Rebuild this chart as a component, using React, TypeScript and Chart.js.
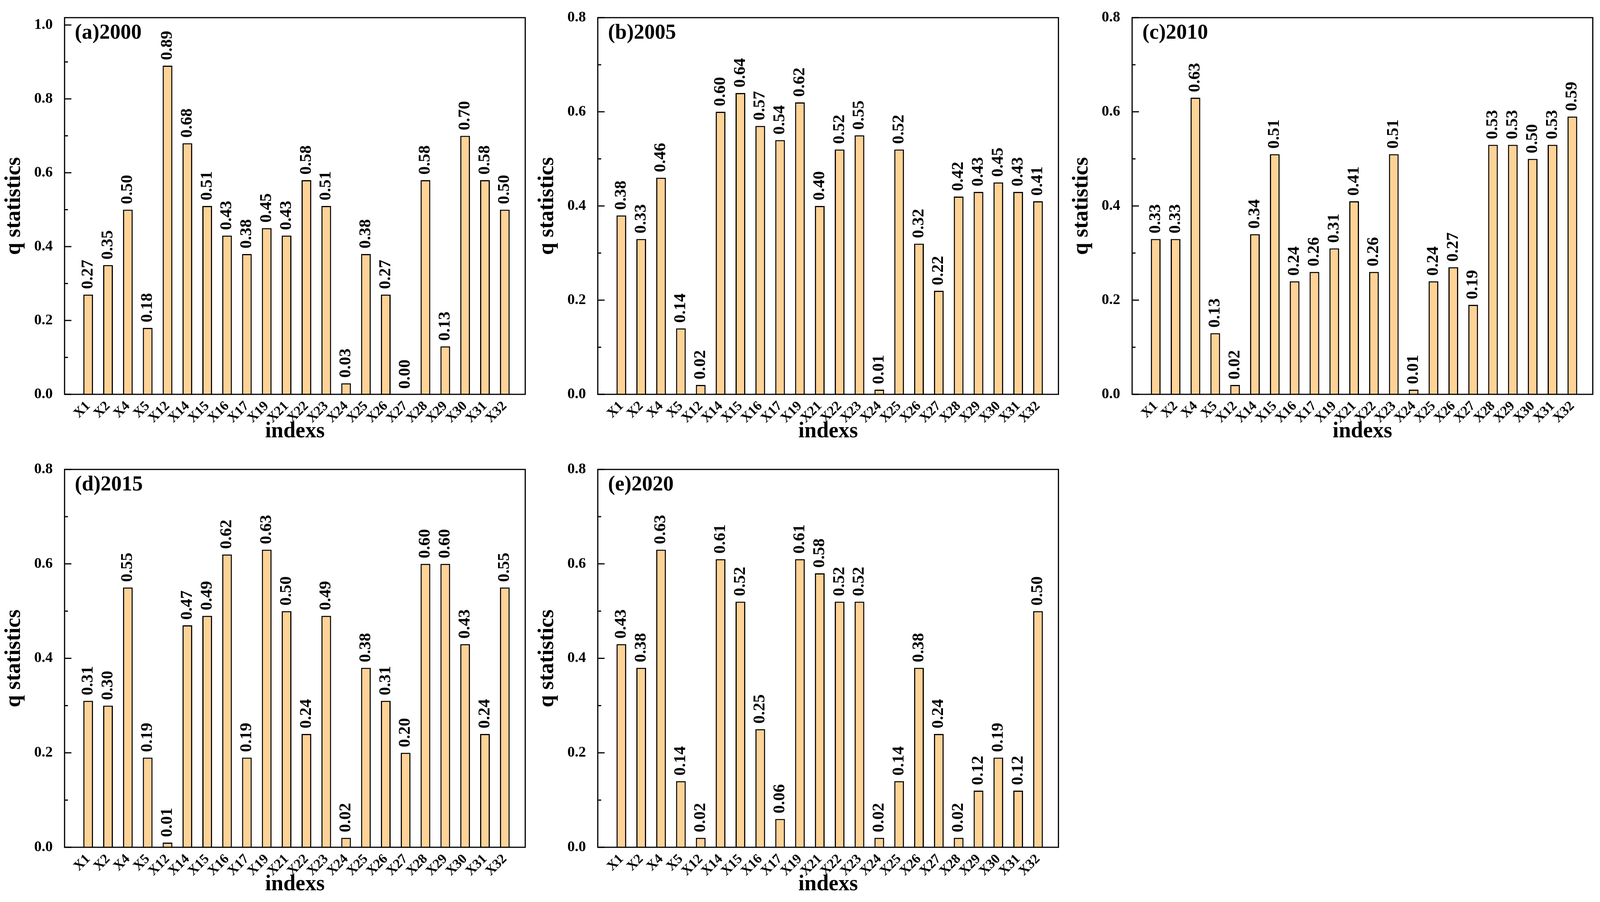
import React, { useEffect, useMemo, useRef } from "react";
import { Chart, registerables } from "chart.js";

Chart.register(...registerables);

// ---------------- data ----------------
const categories = ["X1", "X2", "X4", "X5", "X12", "X14", "X15", "X16", "X17", "X19", "X21", "X22", "X23", "X24", "X25", "X26", "X27", "X28", "X29", "X30", "X31", "X32"];

const q2000 = [0.27, 0.35, 0.5, 0.18, 0.89, 0.68, 0.51, 0.43, 0.38, 0.45, 0.43, 0.58, 0.51, 0.03, 0.38, 0.27, 0.0, 0.58, 0.13, 0.7, 0.58, 0.5];
const q2005 = [0.38, 0.33, 0.46, 0.14, 0.02, 0.6, 0.64, 0.57, 0.54, 0.62, 0.4, 0.52, 0.55, 0.01, 0.52, 0.32, 0.22, 0.42, 0.43, 0.45, 0.43, 0.41];
const q2010 = [0.33, 0.33, 0.63, 0.13, 0.02, 0.34, 0.51, 0.24, 0.26, 0.31, 0.41, 0.26, 0.51, 0.01, 0.24, 0.27, 0.19, 0.53, 0.53, 0.5, 0.53, 0.59];
const q2015 = [0.31, 0.3, 0.55, 0.19, 0.01, 0.47, 0.49, 0.62, 0.19, 0.63, 0.5, 0.24, 0.49, 0.02, 0.38, 0.31, 0.2, 0.6, 0.6, 0.43, 0.24, 0.55];
const q2020 = [0.43, 0.38, 0.63, 0.14, 0.02, 0.61, 0.52, 0.25, 0.06, 0.61, 0.58, 0.52, 0.52, 0.02, 0.14, 0.38, 0.24, 0.02, 0.12, 0.19, 0.12, 0.5];

const yTicksTo10 = [0, 0.2, 0.4, 0.6, 0.8, 1.0];
const yTicksTo08 = [0, 0.2, 0.4, 0.6, 0.8];

const panelTitles = ["(a)2000", "(b)2005", "(c)2010", "(d)2015", "(e)2020"];
const xTitle = "indexs";
const yTitle = "q statistics";

// ---------------- styling / layout ----------------
const FONT = "'Liberation Serif', 'Times New Roman', Times, serif";
const BAR_FILL = "rgb(255, 210, 150)";
const REF_W = 4213;
const REF_H = 2308;

// plot boxes in reference pixels
const plotBoxes = [
  { L: 170, R: 1383, T: 34, B: 1009 },
  { L: 1574, R: 2787, T: 34, B: 1009 },
  { L: 2981, R: 4194, T: 34, B: 1009 },
  { L: 170, R: 1383, T: 1190, B: 2168 },
  { L: 1574, R: 2787, T: 1190, B: 2168 },
];

const panelValues = [q2000, q2005, q2010, q2015, q2020];
const panelYMax = [1.02, 0.8, 0.8, 0.8, 0.8];
const panelYTicks = [yTicksTo10, yTicksTo08, yTicksTo08, yTicksTo08, yTicksTo08];

type Spec = {
  title: string;
  values: number[];
  yMax: number;
  yTicks: number[];
  left: number;
  top: number;
  width: number;
  height: number;
  padTop: number;
  padRight: number;
  yAxisW: number;
  xAxisH: number;
  yTitlePad: number;
  xTitlePad: number;
  sx: number;
  sy: number;
};

function buildSpecs(vw: number, vh: number): Spec[] {
  const sx = vw / REF_W;
  const sy = vh / REF_H;
  return plotBoxes.map((b, i) => {
    const left = Math.floor((b.L - 170) * sx);
    const top = Math.floor((b.T - 34) * sy);
    const right = Math.min(vw, Math.ceil((b.R + 19) * sx));
    const bottom = Math.min(vh, Math.ceil((b.B + 141) * sy));
    const width = right - left;
    const height = bottom - top;
    const yAxisW = b.L * sx - left;
    const padTop = b.T * sy - top;
    const padRight = width - (b.R * sx - left);
    const xAxisH = height - (b.B * sy - top);
    const titleLH = 56 * 1.2;
    const yTitleCenter = (b.L - 132) * sx - left;
    const yTitlePad = Math.max(0, yTitleCenter - titleLH / 2);
    const xTitlePad = Math.max(0, xAxisH - 96 * sy - titleLH / 2);
    return {
      title: panelTitles[i],
      values: panelValues[i],
      yMax: panelYMax[i],
      yTicks: panelYTicks[i],
      left,
      top,
      width,
      height,
      padTop,
      padRight,
      yAxisW,
      xAxisH,
      yTitlePad,
      xTitlePad,
      sx,
      sy,
    };
  });
}

function Panel({ spec }: { spec: Spec }) {
  const ref = useRef<HTMLCanvasElement | null>(null);
  useEffect(() => {
    if (!ref.current) return;
    const { sx, sy } = spec;
    const minorTicks: number[] = [];
    for (let i = 0; i < spec.yTicks.length; i++) {
      const next = i + 1 < spec.yTicks.length ? spec.yTicks[i + 1] : spec.yTicks[i] + (spec.yTicks[1] - spec.yTicks[0]);
      const mid = (spec.yTicks[i] + next) / 2;
      if (mid <= spec.yMax + 1e-9) minorTicks.push(mid);
    }
    const decor = {
      id: "decor",
      afterDatasetsDraw(chart: any) {
        const { ctx, chartArea: a } = chart;
        const ys = chart.scales.y;
        ctx.save();
        ctx.strokeStyle = "#000";
        ctx.fillStyle = "#000";
        ctx.lineWidth = 3;
        ctx.beginPath();
        spec.yTicks.forEach((v) => {
          const py = ys.getPixelForValue(v);
          ctx.moveTo(a.left, py);
          ctx.lineTo(a.left + 18 * sx, py);
        });
        minorTicks.forEach((v) => {
          const py = ys.getPixelForValue(v);
          ctx.moveTo(a.left, py);
          ctx.lineTo(a.left + 9 * sx, py);
        });
        ctx.stroke();
        ctx.strokeRect(a.left, a.top, a.right - a.left, a.bottom - a.top);
        ctx.font = `bold 43px ${FONT}`;
        ctx.textAlign = "left";
        ctx.textBaseline = "middle";
        const meta = chart.getDatasetMeta(0);
        meta.data.forEach((bar: any, i: number) => {
          ctx.save();
          ctx.translate(bar.x, bar.y - 14 * sy);
          ctx.rotate(-Math.PI / 2);
          ctx.fillText(spec.values[i].toFixed(2), 0, 0);
          ctx.restore();
        });
        ctx.font = `bold 54px ${FONT}`;
        ctx.textAlign = "left";
        ctx.textBaseline = "alphabetic";
        ctx.fillText(spec.title, a.left + 27 * sx, a.top + 54 * sy);
        ctx.restore();
      },
    };
    const chart = new Chart(ref.current, {
      type: "bar",
      data: {
        datasets: [
          {
            data: spec.values.map((v, i) => ({ x: i + 1, y: v })),
            backgroundColor: BAR_FILL,
            borderColor: "#000",
            borderWidth: 3,
            barPercentage: 0.49,
            categoryPercentage: 1.0,
          } as any,
        ],
      },
      options: {
        responsive: false,
        animation: false,
        events: [],
        layout: { padding: { top: spec.padTop, left: 0, right: spec.padRight, bottom: 0 } },
        plugins: { legend: { display: false }, tooltip: { enabled: false } },
        scales: {
          x: {
            type: "linear",
            offset: false,
            min: -0.19,
            max: 23.03,
            grid: { display: false, offset: false },
            border: { display: false },
            afterBuildTicks: (s: any) => {
              s.ticks = categories.map((_, i) => ({ value: i + 1 }));
            },
            afterFit: (s: any) => {
              s.height = spec.xAxisH;
            },
            ticks: {
              autoSkip: false,
              minRotation: 45,
              maxRotation: 45,
              padding: 2,
              color: "#000",
              font: { family: FONT, weight: "bold", size: 35 },
              callback: (v: any) => categories[Math.round(Number(v)) - 1] ?? "",
            },
            title: {
              display: true,
              text: xTitle,
              color: "#000",
              font: { family: FONT, weight: "bold", size: 56 },
              padding: { top: 0, bottom: spec.xTitlePad },
            },
          },
          y: {
            type: "linear",
            min: 0,
            max: spec.yMax,
            grid: { display: false },
            border: { display: false },
            afterBuildTicks: (s: any) => {
              s.ticks = spec.yTicks.map((v) => ({ value: v }));
            },
            afterFit: (s: any) => {
              s.width = spec.yAxisW;
            },
            ticks: {
              padding: 23 * sx,
              color: "#000",
              font: { family: FONT, weight: "bold", size: 38 },
              callback: (v: any) => Number(v).toFixed(1),
            },
            title: {
              display: true,
              text: yTitle,
              color: "#000",
              font: { family: FONT, weight: "bold", size: 56 },
              padding: { top: spec.yTitlePad, bottom: 0 },
            },
          },
        },
      } as any,
      plugins: [decor],
    });
    return () => chart.destroy();
  }, [spec]);
  return (
    <canvas
      ref={ref}
      width={spec.width}
      height={spec.height}
      style={{ position: "absolute", left: spec.left, top: spec.top, width: spec.width, height: spec.height }}
    />
  );
}

export default function App() {
  const vw = Math.min(REF_W, window.innerWidth || REF_W);
  const vh = Math.min(REF_H, window.innerHeight || REF_H);
  const specs = useMemo(() => buildSpecs(vw, vh), [vw, vh]);
  useEffect(() => {
    document.body.style.margin = "0";
    document.body.style.overflow = "hidden";
    document.body.style.background = "#fff";
  }, []);
  return (
    <div style={{ position: "absolute", left: 0, top: 0, width: vw, height: vh, overflow: "hidden", background: "#fff" }}>
      {specs.map((s) => (
        <Panel key={s.title} spec={s} />
      ))}
    </div>
  );
}
